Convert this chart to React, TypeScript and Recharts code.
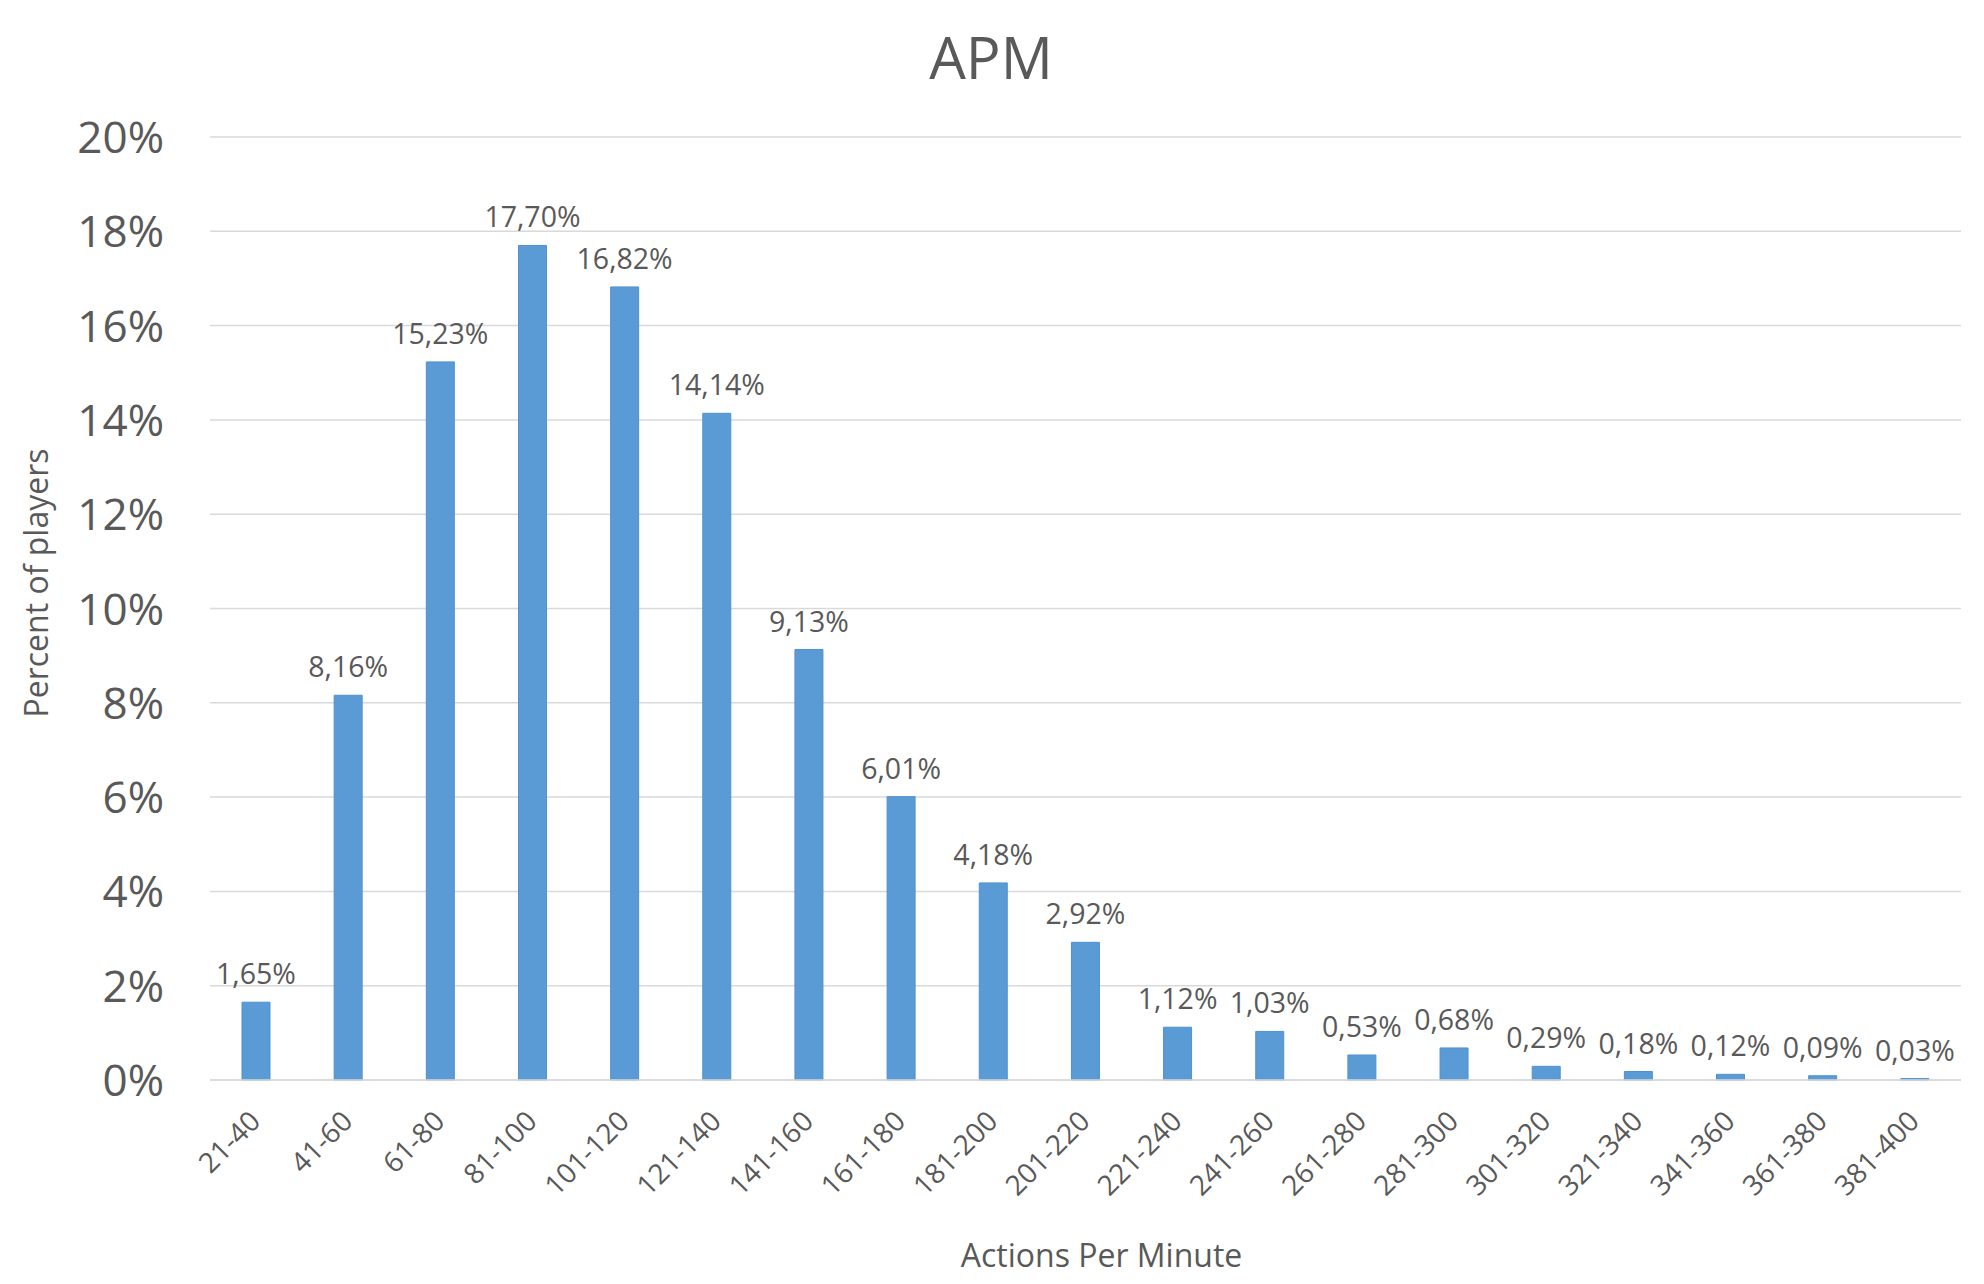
import { BarChart, Bar, XAxis, YAxis, CartesianGrid, LabelList, Label } from "recharts";

const ranges = [
  "21-40", "41-60", "61-80", "81-100", "101-120", "121-140", "141-160",
  "161-180", "181-200", "201-220", "221-240", "241-260", "261-280",
  "281-300", "301-320", "321-340", "341-360", "361-380", "381-400",
];
const percents = [
  1.65, 8.16, 15.23, 17.7, 16.82, 14.14, 9.13, 6.01, 4.18, 2.92,
  1.12, 1.03, 0.53, 0.68, 0.29, 0.18, 0.12, 0.09, 0.03,
];
const yTicks = [0, 2, 4, 6, 8, 10, 12, 14, 16, 18, 20];

const data = ranges.map((r, i) => ({ range: r, value: percents[i] }));

const FONT = "'Open Sans', sans-serif";
const TEXT = "#595959";

const fmt = (v: any) => Number(v).toFixed(2).replace(".", ",") + "%";

function XTick(props: any) {
  const { x, y, payload } = props;
  const ax = x + 6;
  const ay = y + 43;
  return (
    <text
      x={ax}
      y={ay}
      textAnchor="end"
      fill={TEXT}
      fontSize={28}
      fontFamily={FONT}
      transform={`rotate(-45, ${ax}, ${ay})`}
    >
      {payload.value}
    </text>
  );
}

function YTick(props: any) {
  const { y, payload } = props;
  return (
    <text x={164} y={y + 16} textAnchor="end" fill={TEXT} fontSize={44} fontFamily={FONT}>
      {payload.value}%
    </text>
  );
}

export default function App() {
  return (
    <div style={{ position: "absolute", left: 0, top: 0, width: 1984, height: 1284, background: "#fff" }}>
      <div
        style={{
          position: "absolute",
          left: 0,
          top: 17,
          width: 1982,
          textAlign: "center",
          fontFamily: FONT,
          fontSize: 58,
          color: TEXT,
          lineHeight: "80px",
        }}
      >
        APM
      </div>
      <BarChart
        width={1984}
        height={1284}
        data={data}
        margin={{ top: 137, right: 23, bottom: 0, left: 0 }}
        barSize={28}
      >
        <CartesianGrid vertical={false} stroke="#d9d9d9" strokeWidth={1.5} />
        <XAxis
          dataKey="range"
          height={204}
          tickLine={false}
          tickSize={0}
          tickMargin={0}
          axisLine={{ stroke: "#d9d9d9", strokeWidth: 1.5 }}
          interval={0}
          tick={<XTick />}
        >
          <Label
            content={(p: any) => (
              <text
                x={p.viewBox.x + p.viewBox.width / 2 + 16}
                y={p.viewBox.y + 187}
                textAnchor="middle"
                fill={TEXT}
                fontSize={32}
                fontFamily={FONT}
              >
                Actions Per Minute
              </text>
            )}
          />
        </XAxis>
        <YAxis
          width={210}
          domain={[0, 20]}
          ticks={yTicks}
          axisLine={false}
          tickLine={false}
          tick={<YTick />}
        >
          <Label
            content={() => (
              <text
                x={48}
                y={583}
                textAnchor="middle"
                fill={TEXT}
                fontSize={32}
                fontFamily={FONT}
                transform="rotate(-90, 48, 583)"
              >
                Percent of players
              </text>
            )}
          />
        </YAxis>
        <Bar dataKey="value" fill="#5b9bd5" stroke="#4f90cf" strokeWidth={1} isAnimationActive={false}>
          <LabelList
            dataKey="value"
            position="top"
            offset={18}
            formatter={fmt}
            fill={TEXT}
            fontSize={28.5}
            fontFamily={FONT}
          />
        </Bar>
      </BarChart>
    </div>
  );
}
